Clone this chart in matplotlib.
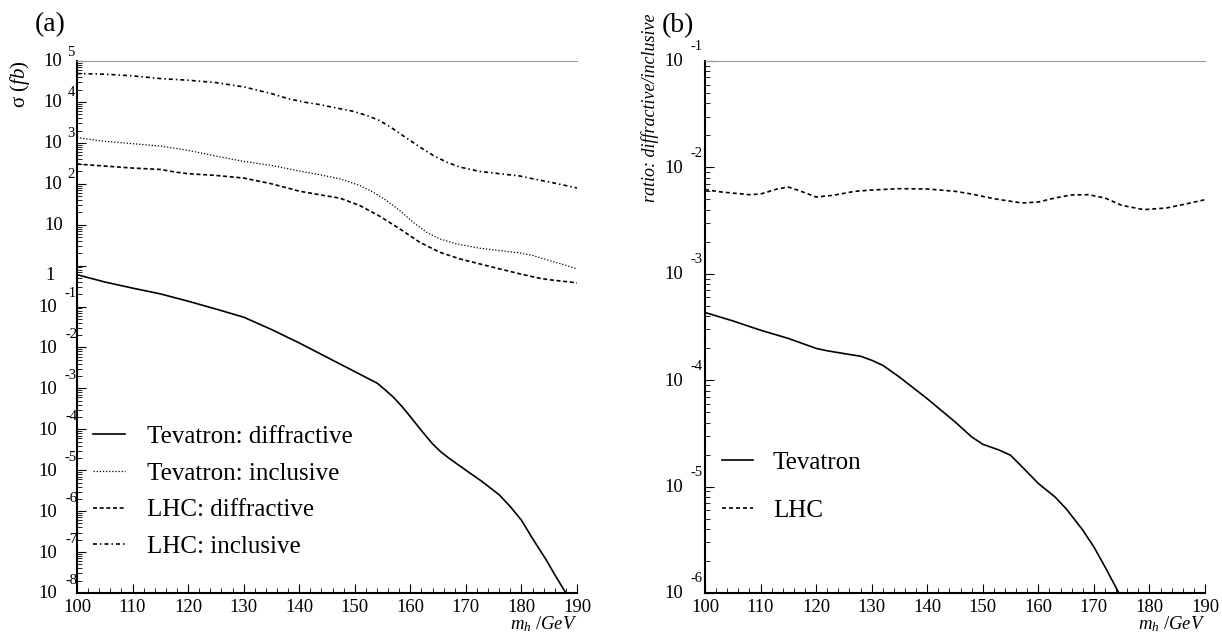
import matplotlib
matplotlib.use('Agg')
import matplotlib.pyplot as plt
from matplotlib.ticker import LogLocator, MultipleLocator, NullFormatter

plt.rcParams['font.family'] = ['Liberation Serif', 'DejaVu Serif']
plt.rcParams['mathtext.fontset'] = 'custom'
plt.rcParams['mathtext.rm'] = 'Liberation Serif'
plt.rcParams['mathtext.it'] = 'Liberation Serif:italic'

# ---------------- data: panel (a) cross sections (fb) ----------------
mh_tev_diff = [100, 105, 110, 115, 120, 125, 130, 135, 140, 145, 150, 152, 154, 155.5,
               157, 158.5, 160, 162, 164, 165.5, 167, 170, 173, 176, 178, 180, 182,
               184.5, 186, 188, 190]
sig_tev_diff = [0.60, 0.398, 0.282, 0.204, 0.135, 0.087, 0.055, 0.0275, 0.0129, 5.75e-3,
                2.57e-3, 1.86e-3, 1.35e-3, 9.1e-4, 6.0e-4, 3.6e-4, 2.04e-4, 9.3e-5,
                4.4e-5, 2.8e-5, 1.95e-5, 1.0e-5, 5.2e-6, 2.5e-6, 1.29e-6, 6.0e-7,
                2.14e-7, 6.3e-8, 2.8e-8, 1.0e-8, 3.2e-9]

mh_tev_incl = [100, 105, 110, 115, 120, 125, 130, 135, 140, 143.7, 147.3, 150.9, 153.3,
               155.7, 158.1, 160.5, 162.9, 165.3, 168.3, 172.5, 176.1, 179.7, 182.1,
               185.1, 187.5, 190]
sig_tev_incl = [1340, 1090, 955, 836, 655, 476, 352, 281, 205, 166, 132, 91, 62.5,
                39.1, 22.2, 11.5, 6.55, 4.50, 3.40, 2.66, 2.33, 2.04, 1.76, 1.32, 1.07,
                0.83]

mh_lhc_diff = [100, 105, 110, 115, 117.7, 120, 125, 130, 135, 140, 143.7, 147.3, 150.9,
               154.5, 158.1, 161.7, 165.3, 168.9, 172.5, 176.1, 179.7, 183.3, 185.1, 190]
sig_lhc_diff = [303, 271, 242, 224, 193, 176, 160, 138, 100, 66, 53.8, 44.6, 29.4,
                16.1, 7.9, 3.72, 2.12, 1.46, 1.10, 0.83, 0.63, 0.49, 0.45, 0.38]

mh_lhc_incl = [100, 105, 110, 115, 120, 125, 130, 135, 138, 140.7, 143.7, 146.7, 149.7,
               152.1, 154.5, 156.9, 159.3, 161.7, 164.1, 166.5, 168.9, 172.5, 176.1,
               179.7, 182.1, 185.1, 190]
sig_lhc_incl = [4.94e4, 4.76e4, 4.34e4, 3.72e4, 3.39e4, 2.97e4, 2.33e4, 1.60e4, 1.20e4,
                1.0e4, 8.6e3, 7.1e3, 5.9e3, 4.7e3, 3.5e3, 2.2e3, 1.31e3, 791, 494, 339,
                256, 200, 176, 155, 132, 110, 79]

# ---------------- data: panel (b) ratios ----------------
mh_ratio_tev = [100, 105, 110, 115, 120, 122, 125, 128, 130, 132, 135, 140, 145, 148,
                150, 153, 155, 158, 160, 163, 165, 168, 170, 172, 174.5, 176]
ratio_tev = [4.33e-4, 3.61e-4, 2.95e-4, 2.47e-4, 1.99e-4, 1.89e-4, 1.78e-4, 1.68e-4,
             1.54e-4, 1.38e-4, 1.07e-4, 6.7e-5, 4.06e-5, 2.93e-5, 2.50e-5, 2.20e-5,
             1.97e-5, 1.37e-5, 1.07e-5, 8.0e-6, 6.2e-6, 3.9e-6, 2.71e-6, 1.76e-6,
             1.0e-6, 6.5e-7]

mh_ratio_lhc = [100, 103, 108, 110, 113, 115, 117, 120, 123, 127, 130, 135, 140, 145,
                148, 152, 157, 160, 163, 166, 169, 172, 175, 179, 183, 186, 190]
ratio_lhc = [6.18e-3, 5.87e-3, 5.54e-3, 5.62e-3, 6.27e-3, 6.54e-3, 6.04e-3, 5.27e-3,
             5.46e-3, 5.96e-3, 6.13e-3, 6.31e-3, 6.27e-3, 5.96e-3, 5.62e-3, 5.08e-3,
             4.63e-3, 4.73e-3, 5.16e-3, 5.51e-3, 5.54e-3, 5.16e-3, 4.40e-3, 4.01e-3,
             4.15e-3, 4.47e-3, 4.97e-3]

left_exps = list(range(-8, 6))
right_exps = list(range(-6, 0))

W, H = 1222, 644
fig = plt.figure(figsize=(W / 100, H / 100), dpi=100)
ax1 = fig.add_axes([77 / W, 51 / H, 500 / W, 532 / H])
ax2 = fig.add_axes([705 / W, 51 / H, 500 / W, 532 / H])

LW = 1.2
ax1.plot(mh_tev_diff, sig_tev_diff, color='k', lw=LW, label='Tevatron: diffractive')
ax1.plot(mh_tev_incl, sig_tev_incl, color='k', lw=0.9, dashes=(1.0, 1.5),
         label='Tevatron: inclusive')
ax1.plot(mh_lhc_diff, sig_lhc_diff, color='k', lw=LW, dashes=(2.4, 1.6),
         label='LHC: diffractive')
ax1.plot(mh_lhc_incl, sig_lhc_incl, color='k', lw=LW, dashes=(2.4, 1.8, 0.9, 1.8),
         label='LHC: inclusive')

ax2.plot(mh_ratio_tev, ratio_tev, color='k', lw=LW, label='Tevatron')
ax2.plot(mh_ratio_lhc, ratio_lhc, color='k', lw=LW, dashes=(2.4, 1.8), label='LHC')

ax1.set_yscale('log')
ax1.set_ylim(1e-8, 1e5)
ax2.set_yscale('log')
ax2.set_ylim(1e-6, 1e-1)

PX = 0.72  # points per pixel

for ax in (ax1, ax2):
    ax.set_xlim(100, 190)
    ax.xaxis.set_major_locator(MultipleLocator(10))
    ax.xaxis.set_minor_locator(MultipleLocator(2))
    ax.yaxis.set_major_locator(LogLocator(base=10, numticks=30))
    ax.yaxis.set_minor_locator(LogLocator(base=10, subs=range(2, 10), numticks=300))
    ax.yaxis.set_minor_formatter(NullFormatter())
    ax.tick_params(axis='y', which='both', direction='in', left=True, right=False,
                   labelleft=False)
    ax.tick_params(axis='y', which='major', length=6.5, width=0.8)
    ax.tick_params(axis='y', which='minor', length=3.6, width=0.6)
    ax.tick_params(axis='x', which='both', direction='in', top=False, bottom=True,
                   labelsize=13.5, pad=4)
    ax.tick_params(axis='x', which='major', length=6.5, width=0.8)
    ax.tick_params(axis='x', which='minor', length=3.6, width=0.6)
    ax.spines['left'].set_linewidth(1.5)
    ax.spines['bottom'].set_linewidth(1.5)
    ax.spines['top'].set_linewidth(0.8)
    ax.spines['top'].set_color('0.6')
    ax.spines['right'].set_visible(False)


def put(ax, s, v, dx_px, dy_px, ha, size):
    ax.annotate(s, xy=(0, v), xycoords=ax.get_yaxis_transform(),
                xytext=(dx_px * PX, dy_px * PX), textcoords='offset points',
                ha=ha, va='center', fontsize=size, annotation_clip=False)


for e in left_exps:
    v = 10.0 ** e
    if e == 0:
        put(ax1, '1', v, -22, -10, 'right', 13.5)
    elif e == 1:
        put(ax1, '10', v, -14, -1, 'right', 13.5)
    elif e > 1:
        put(ax1, '10', v, -15, -1, 'right', 13.5)
        put(ax1, str(e), v, -6, 9, 'center', 10.5)
    else:
        put(ax1, '10', v, -20, -1, 'right', 13.5)
        put(ax1, str(e), v, -6, 13, 'center', 10.5)

for e in right_exps:
    v = 10.0 ** e
    put(ax2, '10', v, -22, -1, 'right', 13.5)
    put(ax2, str(e), v, -8, 14, 'center', 10.5)

ax1.legend(loc='upper left', bbox_to_anchor=(0.032, 0.315), frameon=False,
           fontsize=18, handlelength=1.28, handletextpad=0.88, labelspacing=0.57,
           borderpad=0, borderaxespad=0)
ax2.legend(loc='upper left', bbox_to_anchor=(0.034, 0.266), frameon=False,
           fontsize=18, handlelength=1.24, handletextpad=0.8, labelspacing=1.02,
           borderpad=0, borderaxespad=0)

fig.text(35 / W, 1 - 25 / H, '(a)', fontsize=20, ha='left', va='center')
fig.text(662 / W, 1 - 26 / H, '(b)', fontsize=20, ha='left', va='center')
fig.text(20 / W, 1 - 60 / H, r'σ $\mathit{(fb)}$', rotation=90, ha='center',
         va='top', fontsize=15)
fig.text(650 / W, 1 - 13 / H, 'ratio: diffractive/inclusive', style='italic',
         rotation=90, ha='center', va='top', fontsize=13)
fig.text(577 / W, 1 - 629 / H, r'$m_{h}\ /GeV$', ha='right', va='baseline',
         fontsize=13.5)
fig.text(1205 / W, 1 - 629 / H, r'$m_{h}\ /GeV$', ha='right', va='baseline',
         fontsize=13.5)

fig.savefig('out.png', dpi=100)
